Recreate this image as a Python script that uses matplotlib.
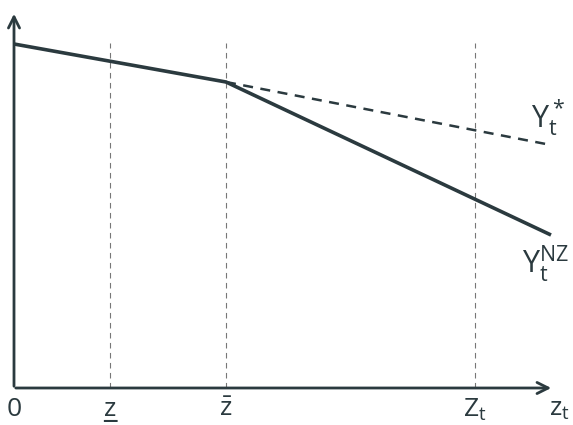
import matplotlib.pyplot as plt

plt.rcParams['font.family'] = ['Open Sans', 'DejaVu Sans']
plt.rcParams['mathtext.fontset'] = 'custom'
plt.rcParams['mathtext.rm'] = 'Open Sans'
plt.rcParams['mathtext.it'] = 'Open Sans'

col = '#2b3a3f'
# positions along z axis (origin = 0)
z_marks = [96, 212, 461]
z_labels = ['z\u0332', r'$\bar{\mathrm{z}}$', r'$\mathrm{Z_t}$']
# output paths
z_nz = [0, 212, 537]
y_nz = [344, 306, 153]
z_star = [212, 537]
y_star = [306, 243]

fig = plt.figure(figsize=(5.73, 4.25), dpi=100)
ax = fig.add_axes([0, 0, 1, 1])
ax.set_xlim(-14, 559)
ax.set_ylim(-37, 388)
ax.axis('off')

for zm in z_marks:
    ax.plot([zm, zm], [0, 345], '--', color='#777777', lw=0.8, dashes=(5, 4))

ax.plot(z_nz, y_nz, color=col, lw=2.6, solid_capstyle='butt')
ax.plot(z_star, y_star, '--', color=col, lw=1.8, dashes=(4, 3))

ax.annotate('', xy=(540, 0), xytext=(-1, 0),
            arrowprops=dict(arrowstyle='->', color=col, lw=2, mutation_scale=20))
ax.annotate('', xy=(0, 377), xytext=(0, -1),
            arrowprops=dict(arrowstyle='->', color=col, lw=2, mutation_scale=20))

fs = 19
ax.text(0, -22, '0', ha='center', va='center', fontsize=fs, color=col)
for zm, lab in zip(z_marks, z_labels):
    ax.text(zm, -22, lab, ha='center', va='center', fontsize=fs, color=col)
ax.text(545, -22, r'$\mathrm{z_t}$', ha='center', va='center', fontsize=fs, color=col)
ax.text(534, 270, r'$\mathrm{Y_t^*}$', ha='center', va='center', fontsize=22, color=col)
ax.text(531, 124, r'$\mathrm{Y_t^{NZ}}$', ha='center', va='center', fontsize=22, color=col)

fig.savefig('out.png', dpi=100)
